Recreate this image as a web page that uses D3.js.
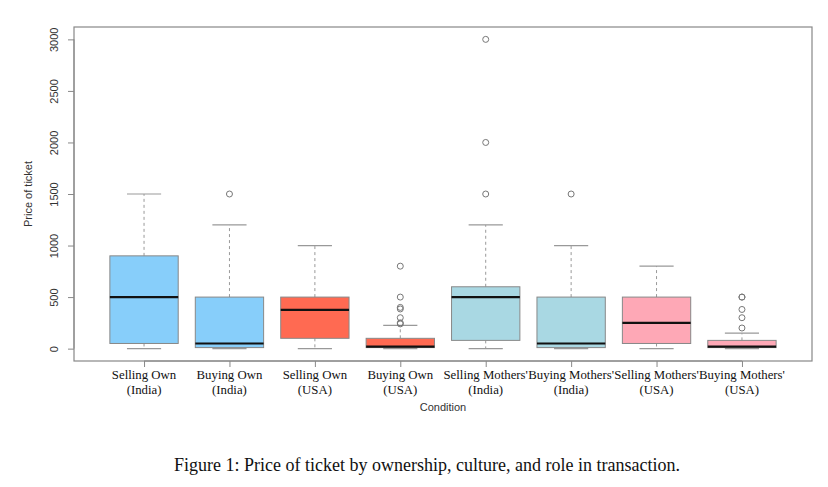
<!DOCTYPE html>
<html>
<head>
<meta charset="utf-8">
<script src="https://cdn.jsdelivr.net/npm/d3@7"></script>
<style>
  body { margin: 0; background: #fff; overflow: hidden; }
  svg { display: block; }
</style>
</head>
<body>
<svg id="chart" width="828" height="487"></svg>
<script>
// five-number summaries
const conditions = [
  ["Selling Own", "(India)"], ["Buying Own", "(India)"], ["Selling Own", "(USA)"], ["Buying Own", "(USA)"],
  ["Selling Mothers'", "(India)"], ["Buying Mothers'", "(India)"], ["Selling Mothers'", "(USA)"], ["Buying Mothers'", "(USA)"]
];
const lowWhisker = [0, 0, 0, 0, 0, 0, 0, 0];
const q1 = [50, 10, 100, 10, 80, 10, 50, 10];
const median = [500, 50, 375, 20, 500, 50, 250, 20];
const q3 = [900, 500, 500, 100, 600, 500, 500, 80];
const highWhisker = [1500, 1200, 1000, 225, 1200, 1000, 800, 150];
const outliers = [
  [], [1500], [], [800, 500, 400, 385, 300, 250, 240],
  [1500, 2000, 3000], [1500], [], [500, 500, 380, 300, 200]
];
const boxColors = ["#87cefa", "#87cefa", "#ff6a52", "#ff6a52", "#a9d8e3", "#a9d8e3", "#fea8b6", "#fea8b6"];
const yTicks = [0, 500, 1000, 1500, 2000, 2500, 3000];

const data = conditions.map((c, i) => ({
  label: c, lo: lowWhisker[i], q1: q1[i], med: median[i], q3: q3[i], hi: highWhisker[i],
  out: outliers[i], color: boxColors[i], idx: i + 1
}));

const svg = d3.select('#chart');
const margin = { top: 27, right: 16, bottom: 126, left: 74 };
const width = +svg.attr('width');
const height = +svg.attr('height');
const innerWidth = width - margin.left - margin.right;
const innerHeight = height - margin.top - margin.bottom;

const xScale = d3.scaleLinear().domain([0.18, 8.82]).range([0, innerWidth]);
const yScale = d3.scaleLinear().domain([-120, 3120]).range([innerHeight, 0]);
const unit = xScale(2) - xScale(1);

const g = svg.append('g')
  .attr('transform', 'translate(' + margin.left + ',' + margin.top + ')');

const boxes = g.selectAll('.box')
  .data(data)
  .enter().append('g')
  .attr('class', 'box')
  .attr('transform', d => 'translate(' + xScale(d.idx) + ',0)');

// whiskers
boxes.append('line')
  .attr('y1', d => yScale(d.q3)).attr('y2', d => yScale(d.hi))
  .attr('stroke', '#999').attr('stroke-dasharray', '3,3');
boxes.append('line')
  .attr('y1', d => yScale(d.q1)).attr('y2', d => yScale(d.lo))
  .attr('stroke', '#999').attr('stroke-dasharray', '3,3');
boxes.append('line')
  .attr('x1', -unit * 0.2).attr('x2', unit * 0.2)
  .attr('y1', d => yScale(d.hi)).attr('y2', d => yScale(d.hi))
  .attr('stroke', '#999').attr('stroke-width', 1.2);
boxes.append('line')
  .attr('x1', -unit * 0.2).attr('x2', unit * 0.2)
  .attr('y1', d => yScale(d.lo)).attr('y2', d => yScale(d.lo))
  .attr('stroke', '#999').attr('stroke-width', 1.2);

boxes.append('rect')
  .attr('x', -unit * 0.4)
  .attr('width', unit * 0.8)
  .attr('y', d => yScale(d.q3))
  .attr('height', d => yScale(d.q1) - yScale(d.q3))
  .attr('fill', d => d.color)
  .attr('stroke', '#888')
  .attr('stroke-width', 1);

boxes.append('line')
  .attr('x1', -unit * 0.4).attr('x2', unit * 0.4)
  .attr('y1', d => yScale(d.med)).attr('y2', d => yScale(d.med))
  .attr('stroke', '#111').attr('stroke-width', 2.2);

boxes.selectAll('circle')
  .data(d => d.out)
  .enter().append('circle')
  .attr('cx', 0)
  .attr('cy', d => yScale(d))
  .attr('r', 3)
  .attr('fill', 'none')
  .attr('stroke', '#777')
  .attr('stroke-width', 1);

// plot frame
g.append('rect')
  .attr('width', innerWidth).attr('height', innerHeight)
  .attr('fill', 'none').attr('stroke', '#888').attr('stroke-width', 1.2);

// y axis
const yAxisG = g.append('g').call(d3.axisLeft(yScale).tickValues(yTicks).tickSize(6).tickFormat(d3.format('d')));
yAxisG.select('.domain').attr('d', 'M0,' + yScale(0) + 'V' + yScale(3000)).attr('stroke', '#888');
yAxisG.selectAll('.tick line').attr('stroke', '#888');
yAxisG.selectAll('.tick text')
  .attr('transform', 'translate(-16,0) rotate(-90)')
  .attr('x', 0).attr('y', 0).attr('dy', 0)
  .style('text-anchor', 'middle')
  .style('font-family', 'Liberation Sans, Arial, sans-serif')
  .style('font-size', '11px')
  .style('fill', '#333');

// x axis
const xAxisG = g.append('g')
  .attr('transform', 'translate(0,' + innerHeight + ')')
  .call(d3.axisBottom(xScale).tickValues(data.map(d => d.idx)).tickSize(6).tickFormat(''));
xAxisG.select('.domain').attr('d', 'M' + xScale(1) + ',0H' + xScale(8)).attr('stroke', '#888');
xAxisG.selectAll('.tick line').attr('stroke', '#888');

const xLabels = g.append('g').selectAll('text')
  .data(data)
  .enter().append('text')
  .attr('x', d => xScale(d.idx))
  .attr('y', innerHeight + 18)
  .style('text-anchor', 'middle')
  .style('font-family', 'Liberation Serif, Times New Roman, serif')
  .style('font-size', '12.8px')
  .style('fill', '#111');
xLabels.selectAll('tspan')
  .data(d => d.label)
  .enter().append('tspan')
  .attr('x', function () { return d3.select(this.parentNode).attr('x'); })
  .attr('dy', (d, i) => i === 0 ? 0 : '1.15em')
  .text(d => d);

g.append('text')
  .attr('x', innerWidth / 2)
  .attr('y', innerHeight + 50)
  .style('text-anchor', 'middle')
  .style('font-family', 'Liberation Sans, Arial, sans-serif')
  .style('font-size', '11px')
  .style('fill', '#333')
  .text('Condition');

g.append('text')
  .attr('transform', 'translate(' + (-42) + ',' + yScale(1500) + ') rotate(-90)')
  .style('text-anchor', 'middle')
  .style('font-family', 'Liberation Sans, Arial, sans-serif')
  .style('font-size', '11px')
  .style('fill', '#333')
  .text('Price of ticket');

svg.append('text')
  .attr('x', 427)
  .attr('y', 471)
  .style('text-anchor', 'middle')
  .style('font-family', 'Liberation Serif, Times New Roman, serif')
  .style('font-size', '18px')
  .style('fill', '#111')
  .text('Figure 1: Price of ticket by ownership, culture, and role in transaction.');
</script>
</body>
</html>
